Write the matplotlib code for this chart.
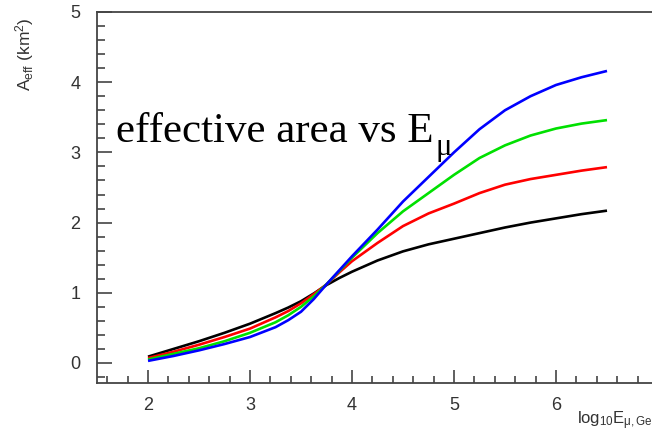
import matplotlib
matplotlib.use("Agg")
import matplotlib.pyplot as plt
from matplotlib.ticker import MultipleLocator

# log10 of muon energy (GeV)
log_e = [2.0, 2.25, 2.5, 2.75, 3.0, 3.25, 3.375, 3.5, 3.625, 3.75, 3.875, 4.0,
         4.25, 4.5, 4.75, 5.0, 5.25, 5.5, 5.75, 6.0, 6.25, 6.5]

# effective area (km^2) for four configurations
area_black = [0.09, 0.20, 0.31, 0.43, 0.56, 0.71, 0.79, 0.88, 0.99, 1.11, 1.21, 1.30,
              1.46, 1.59, 1.69, 1.77, 1.85, 1.93, 2.00, 2.06, 2.12, 2.17]
area_red = [0.07, 0.16, 0.26, 0.37, 0.49, 0.65, 0.74, 0.85, 0.98, 1.12, 1.29, 1.45,
            1.71, 1.95, 2.13, 2.27, 2.42, 2.54, 2.62, 2.68, 2.74, 2.79]
area_green = [0.05, 0.13, 0.21, 0.31, 0.43, 0.58, 0.68, 0.80, 0.95, 1.12, 1.31, 1.50,
              1.85, 2.16, 2.42, 2.68, 2.92, 3.10, 3.24, 3.34, 3.41, 3.46]
area_blue = [0.03, 0.10, 0.18, 0.27, 0.37, 0.51, 0.61, 0.73, 0.91, 1.12, 1.32, 1.52,
             1.90, 2.30, 2.65, 3.00, 3.33, 3.60, 3.80, 3.96, 4.07, 4.16]

x_ticks = [2, 3, 4, 5, 6]
y_ticks = [0, 1, 2, 3, 4, 5]

plt.rcParams["mathtext.fontset"] = "custom"
plt.rcParams["mathtext.rm"] = "Liberation Sans"
plt.rcParams["mathtext.it"] = "Liberation Sans"

fig = plt.figure(figsize=(6.52, 4.42), dpi=100)
ax = fig.add_axes([0.1488, 0.1335, 0.8604, 0.8394])

for series, color in [(area_black, "#000000"), (area_red, "#ff0000"),
                      (area_green, "#00e000"), (area_blue, "#0000ff")]:
    ax.plot(log_e, series, color=color, lw=1.9, solid_capstyle="butt")

ax.set_xlim(1.5, 7.0)
ax.set_ylim(-0.285, 5.0)

axis_color = "#444444"
for side in ["left", "bottom", "top"]:
    ax.spines[side].set_color(axis_color)
    ax.spines[side].set_linewidth(1.3)
ax.spines["right"].set_visible(False)

ax.set_xticks(x_ticks)
ax.set_yticks(y_ticks)
ax.xaxis.set_minor_locator(MultipleLocator(0.2))
ax.yaxis.set_minor_locator(MultipleLocator(0.2))
ax.tick_params(axis="both", which="both", direction="in", color=axis_color,
               width=1.2, top=False, right=False)
ax.tick_params(axis="y", which="major", length=11, pad=12)
ax.tick_params(axis="y", which="minor", length=5.5)
ax.tick_params(axis="x", which="major", length=9.5, pad=10)
ax.tick_params(axis="x", which="minor", length=5)
for lab in ax.get_xticklabels() + ax.get_yticklabels():
    lab.set_fontfamily("Liberation Sans")
    lab.set_fontsize(13)
    lab.set_color("#333333")

# y-axis label
fig.text(0.038, 0.96, r"A$_{\mathrm{eff}}$ (km$^{2}$)", rotation=90,
         ha="center", va="top", fontsize=12.5, color="#333333",
         family="Liberation Sans")

# x-axis label (runs off the right edge)
fig.text(0.885, 0.022, r"log$_{10}$E$_{\mu,\mathrm{GeV}}$", ha="left",
         va="bottom", fontsize=12, color="#333333", family="Liberation Sans")

# annotation inside the plot, with a subscript mu after the E
main = fig.text(116 / 652, 1 - 142 / 442, "effective area vs E", ha="left",
                va="baseline", fontsize=31, family="Liberation Serif",
                color="black")
fig.canvas.draw()
bb = main.get_window_extent(renderer=fig.canvas.get_renderer())
fig.text(bb.x1 / fig.bbox.width + 0.003, 1 - 155 / 442, "μ", ha="left",
         va="baseline", fontsize=22, family="Liberation Serif", color="black")

fig.savefig("out.png", dpi=100)
